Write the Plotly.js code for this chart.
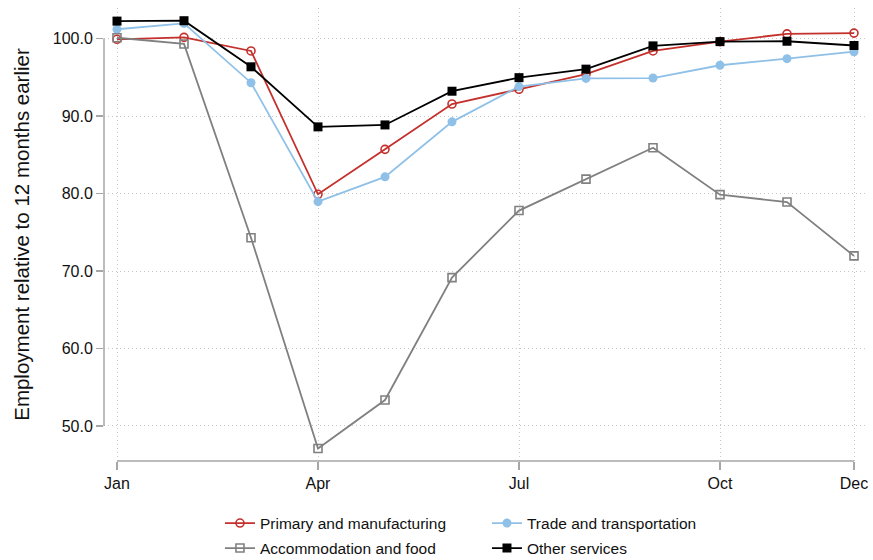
<!DOCTYPE html>
<html>
<head>
<meta charset="utf-8">
<script src="https://cdn.plot.ly/plotly-3.0.1.min.js"></script>
<style>html,body{margin:0;padding:0;background:#fff;}#chart{width:873px;height:560px;}</style>
</head>
<body>
<div id="chart"></div>
<script>
const months = [0,1,2,3,4,5,6,7,8,9,10,11];
const tickPositions = [0,3,6,9,11];
const tickLabels = ["Jan","Apr","Jul","Oct","Dec"];
const yTicks = [50,60,70,80,90,100];

const primaryManufacturing = [99.9,100.15,98.4,79.9,85.7,91.55,93.45,95.4,98.4,99.6,100.6,100.7];
const tradeTransportation = [101.2,101.95,94.3,78.95,82.15,89.25,93.8,94.85,94.9,96.55,97.4,98.3];
const accommodationFood = [100.1,99.3,74.3,47.1,53.35,69.15,77.8,81.85,85.9,79.85,78.9,71.95];
const otherServices = [102.25,102.3,96.35,88.6,88.85,93.2,94.95,96.05,99.05,99.6,99.65,99.1];

const names = ["Primary and manufacturing","Trade and transportation","Accommodation and food","Other services"];

const traces = [
  {x: months, y: primaryManufacturing, name: names[0], mode: 'lines+markers', legend: 'legend',
   line: {color: '#c4302b', width: 1.8},
   marker: {symbol: 'circle-open', size: 8, color: '#c4302b', line: {width: 1.6, color: '#c4302b'}}},
  {x: months, y: tradeTransportation, name: names[1], mode: 'lines+markers', legend: 'legend',
   line: {color: '#8fc0e7', width: 1.8},
   marker: {symbol: 'circle', size: 9, color: '#8fc0e7'}},
  {x: months, y: accommodationFood, name: names[2], mode: 'lines+markers', legend: 'legend2',
   line: {color: '#808080', width: 1.8},
   marker: {symbol: 'square-open', size: 8, color: '#808080', line: {width: 1.6, color: '#808080'}}},
  {x: months, y: otherServices, name: names[3], mode: 'lines+markers', legend: 'legend2',
   line: {color: '#000000', width: 1.8},
   marker: {symbol: 'square', size: 9, color: '#000000'}}
].map(t => Object.assign(t, {cliponaxis: false}));

const axisColor = '#a6a6a6';
const legendCommon = {
  orientation: 'h', xanchor: 'left', yanchor: 'top',
  entrywidth: 222, entrywidthmode: 'pixels', traceorder: 'normal',
  font: {size: 15.5, color: '#111'}, bgcolor: 'rgba(0,0,0,0)'
};
const layout = {
  width: 873, height: 560,
  margin: {l: 104, r: 6, t: 8, b: 99, autoexpand: false},
  paper_bgcolor: '#fff', plot_bgcolor: '#fff',
  font: {family: 'Liberation Sans, Arial, Helvetica, sans-serif', color: '#111', size: 15},
  showlegend: true,
  xaxis: {
    range: [-0.194, 11.194], tickvals: tickPositions, ticktext: tickLabels,
    showline: false, zeroline: false, automargin: false,
    showgrid: true, gridcolor: '#c8c8c8', griddash: '1px,3px', gridwidth: 1,
    ticks: 'outside', ticklen: 8, tickcolor: axisColor, tickwidth: 1.3,
    ticklabelstandoff: 0,
    tickfont: {size: 16, color: '#111'}
  },
  yaxis: {
    range: [45.48, 103.94], tickvals: yTicks, tickformat: '.1f',
    showline: false, zeroline: false, automargin: false,
    showgrid: true, gridcolor: '#c8c8c8', griddash: '1px,3px', gridwidth: 1,
    ticks: 'outside', ticklen: 7, tickcolor: axisColor, tickwidth: 1.3,
    tickfont: {size: 16, color: '#111'},
    title: {text: 'Employment relative to 12 months earlier', font: {size: 20.5, color: '#111'}, standoff: 17}
  },
  shapes: [
    {type: 'line', xref: 'x', yref: 'paper', x0: 0, x1: 11, y0: 0, y1: 0, line: {color: axisColor, width: 1.5}},
    {type: 'line', xref: 'paper', yref: 'y', x0: 0, x1: 0, y0: 50, y1: 100, line: {color: axisColor, width: 1.5}}
  ],
  legend: Object.assign({}, legendCommon, {x: 0.152, y: -0.1004}),
  legend2: Object.assign({}, legendCommon, {x: 0.152, y: -0.1556})
};

Plotly.newPlot('chart', traces, layout, {staticPlot: true, displayModeBar: false});
</script>
</body>
</html>
